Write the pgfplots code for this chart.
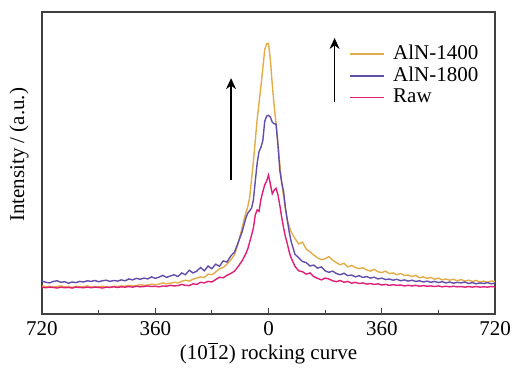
\documentclass[border=0pt]{standalone}
\usepackage{fontspec}
\setmainfont{Liberation Serif}
\usepackage{pgfplots}
\pgfplotsset{compat=1.18}
\usetikzlibrary{arrows.meta}
\definecolor{cgold}{RGB}{226,172,72}
\definecolor{cpurple}{RGB}{98,78,170}
\definecolor{cpink}{RGB}{222,30,120}
\begin{document}
\begin{tikzpicture}[font=\rmfamily\fontsize{10.5}{12.6}\selectfont]
\begin{axis}[
  scale only axis, width=226.5pt, height=151pt,
  xmin=-720, xmax=720, ymin=0, ymax=100,
  xtick={-720,-360,0,360,720}, xticklabels={720,360,0,360,720},
  minor xtick={-540,-180,180,540},
  ytick=\empty,
  xtick pos=bottom,
  tick align=inside,
  major tick length=3pt, minor tick length=2pt,
  axis line style={line width=0.6pt, black!75},
  every tick/.style={black!75, line width=0.5pt},
  /pgf/number format/assume math mode=true,
  tick label style={font=\rmfamily\fontsize{10.5}{12.6}\selectfont},
  xlabel={(10$\overline{\mbox{1}}$2) rocking curve},
  xlabel style={yshift=3.5pt},
  ylabel={Intensity / (a.u.)},
  ylabel style={at={(axis description cs:-0.014,0.527)}, anchor=south},
  legend style={draw=none, fill=none, at={(axis description cs:0.665,0.918)}, anchor=north west, font=\rmfamily\fontsize{10.5}{12.6}\selectfont, row sep=-1.8pt, column sep=2pt},
  legend cell align=left,
  every axis plot/.append style={line width=0.7pt},
]
\addplot[cgold] coordinates {
(-720,9.3) (-708,9.0) (-696,9.2) (-684,8.9) (-672,9.1) (-660,9.3) (-648,9.0) (-636,9.1) (-624,8.8) (-612,9.2) (-600,9.0) (-588,9.1) (-576,9.3) (-564,8.9) (-552,9.1) (-540,9.0) (-528,9.2) (-516,9.0) (-504,8.9) (-492,9.2) (-480,9.1) (-468,9.3) (-456,9.2) (-444,9.5) (-432,9.3) (-420,9.4) (-408,9.7) (-396,9.5) (-384,9.6) (-372,9.9) (-360,9.7) (-348,9.9) (-336,10.3) (-324,10.0) (-312,10.2) (-300,10.5) (-288,10.3) (-276,10.8) (-264,11.2) (-252,10.9) (-240,11.5) (-228,11.9) (-216,12.3) (-204,12.1) (-192,13.2) (-180,13.0) (-168,13.9) (-156,15.0) (-144,15.4) (-132,16.5) (-120,17.9) (-108,19.6) (-96,23.5) (-84,28.5) (-72,33.6)
(-66,35.5) (-60,38.5) (-54,44.5) (-48,50.5) (-42,57.5) (-36,64.5) (-30,70.0) (-24,75.5) (-18,81.5) (-12,87.5) (-6,89.5) (0,89.6) (6,84.0) (12,76.0) (18,69.0) (24,63.0) (30,56.5) (36,49.5) (42,43.5) (48,39.0) (54,34.5) (60,31.0) (66,29.0)
(72,27.2) (84,25.0) (96,23.2) (108,23.8) (120,21.5) (132,20.6) (144,19.5) (156,18.6) (168,18.0) (180,18.3) (192,19.0) (204,17.8) (216,17.0) (228,16.3) (240,16.8) (252,15.6) (264,16.1) (276,15.4) (288,15.0) (300,15.3) (312,14.6) (324,14.2) (336,14.8) (348,14.0) (360,13.7) (372,14.2) (384,13.4) (396,13.6) (408,13.0) (420,13.4) (432,12.8) (444,12.9) (456,12.4) (468,12.8) (480,12.0) (492,12.3) (504,11.8) (516,12.1) (528,11.5) (540,11.9) (552,11.3) (564,11.6) (576,11.2) (588,11.5) (600,11.0) (612,11.4) (624,10.9) (636,11.2) (648,10.8) (660,11.1) (672,10.6) (684,10.9) (696,10.5) (708,10.9) (720,10.8)
};
\addlegendentry{AlN-1400}
\addplot[cpurple] coordinates {
(-720,10.9) (-708,10.5) (-696,10.3) (-684,10.8) (-672,11.0) (-660,10.5) (-648,10.7) (-636,10.2) (-624,10.6) (-612,10.4) (-600,10.8) (-588,10.6) (-576,11.0) (-564,10.8) (-552,11.1) (-540,10.7) (-528,11.0) (-516,11.2) (-504,10.8) (-492,11.1) (-480,10.9) (-468,11.3) (-456,11.0) (-444,11.6) (-432,11.3) (-420,11.8) (-408,11.5) (-396,11.9) (-384,11.6) (-372,12.3) (-360,11.8) (-348,12.2) (-336,12.8) (-324,12.1) (-312,12.6) (-300,13.0) (-288,12.4) (-276,13.6) (-264,13.0) (-252,14.5) (-240,13.6) (-228,14.2) (-216,15.4) (-204,14.3) (-192,15.9) (-180,15.0) (-168,16.5) (-156,15.8) (-144,17.6) (-132,17.2) (-120,19.2) (-108,20.5) (-96,23.8) (-84,27.2) (-72,31.8)
(-66,33.4) (-60,34.2) (-54,35.0) (-48,37.8) (-42,44.0) (-36,50.0) (-30,53.8) (-24,55.2) (-18,57.5) (-12,63.8) (-6,65.5) (0,65.8) (6,65.2) (12,63.5) (18,63.0) (24,62.9) (30,56.0) (36,47.5) (42,43.5) (48,40.5) (54,35.0) (60,31.0) (66,27.0)
(72,24.0) (84,19.8) (96,18.6) (108,17.4) (120,17.0) (132,15.9) (144,16.2) (156,15.2) (168,15.6) (180,14.3) (192,13.8) (204,14.2) (216,13.4) (228,13.0) (240,13.5) (252,12.7) (264,12.9) (276,12.3) (288,12.7) (300,12.1) (312,12.4) (324,11.9) (336,12.2) (348,11.6) (360,11.9) (372,11.4) (384,11.6) (396,11.2) (408,11.5) (420,11.0) (432,11.3) (444,10.9) (456,11.2) (468,10.8) (480,11.0) (492,10.6) (504,10.9) (516,10.5) (528,10.8) (540,10.4) (552,10.7) (564,10.3) (576,10.6) (588,10.2) (600,10.5) (612,10.3) (624,10.6) (636,10.1) (648,10.4) (660,10.0) (672,10.3) (684,10.1) (696,10.4) (708,10.0) (720,10.2)
};
\addlegendentry{AlN-1800}
\addplot[cpink] coordinates {
(-720,8.9) (-708,8.7) (-696,8.9) (-684,8.8) (-672,8.6) (-660,8.9) (-648,8.7) (-636,8.8) (-624,8.6) (-612,8.9) (-600,8.8) (-588,8.7) (-576,8.9) (-564,8.7) (-552,8.9) (-540,8.8) (-528,8.6) (-516,8.9) (-504,8.8) (-492,9.0) (-480,8.8) (-468,9.0) (-456,8.9) (-444,9.1) (-432,8.9) (-420,9.2) (-408,9.0) (-396,9.1) (-384,9.3) (-372,9.1) (-360,9.2) (-348,9.0) (-336,9.3) (-324,9.2) (-312,9.5) (-300,9.3) (-288,9.4) (-276,9.8) (-264,9.5) (-252,9.4) (-240,10.0) (-228,9.8) (-216,10.5) (-204,10.3) (-192,10.8) (-180,10.6) (-168,11.4) (-156,12.2) (-144,12.0) (-132,12.8) (-120,13.4) (-108,14.2) (-96,15.8) (-84,17.6) (-72,20.0)
(-66,21.5) (-60,23.8) (-54,26.0) (-48,28.5) (-42,32.8) (-36,34.5) (-30,34.0) (-24,38.0) (-18,40.5) (-12,42.8) (-6,44.0) (0,46.0) (6,43.0) (12,39.8) (18,41.0) (24,41.6) (30,39.5) (36,36.0) (42,32.0) (48,28.5) (54,25.5) (60,23.2) (66,20.5)
(72,18.6) (84,15.8) (96,14.3) (108,14.0) (120,13.2) (132,13.6) (144,12.4) (156,11.8) (168,11.3) (180,11.9) (192,11.6) (204,11.0) (216,10.7) (228,11.1) (240,10.5) (252,10.8) (264,10.2) (276,10.5) (288,10.1) (300,10.3) (312,9.9) (324,10.1) (336,9.8) (348,10.0) (360,9.6) (372,9.8) (384,9.5) (396,9.7) (408,9.5) (420,9.6) (432,9.3) (444,9.5) (456,9.3) (468,9.5) (480,9.2) (492,9.4) (504,9.2) (516,9.3) (528,9.1) (540,9.3) (552,9.0) (564,9.2) (576,9.0) (588,9.2) (600,9.0) (612,9.1) (624,8.9) (636,9.1) (648,8.9) (660,9.1) (672,8.9) (684,9.0) (696,8.9) (708,9.1) (720,9.0)
};
\addlegendentry{Raw}
\draw[-{Stealth[length=5.5pt,width=5pt]}, line width=0.65pt] (axis cs:-119,44.4) -- (axis cs:-119,78.1);
\draw[-{Stealth[length=5.5pt,width=5pt]}, line width=0.65pt] (axis cs:210,70.3) -- (axis cs:210,91.4);
\end{axis}
\pgfresetboundingbox
\path[use as bounding box] ([shift={(-21pt,-28pt)}]current axis.south west) rectangle ([shift={(9.5pt,6pt)}]current axis.north east);
\end{tikzpicture}
\end{document}
